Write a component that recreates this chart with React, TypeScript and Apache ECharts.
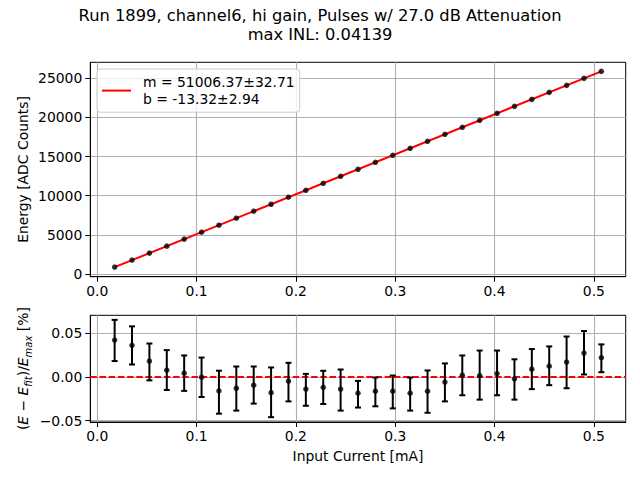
import React, { useEffect, useRef } from "react";
import * as echarts from "echarts";

const titleLines = [
  "Run 1899, channel6, hi gain, Pulses w/ 27.0 dB Attenuation",
  "max INL: 0.04139",
];
const legendLabel = "m = 51006.37±32.71\nb = -13.32±2.94";

const current = [
  0.0175, 0.035, 0.0525, 0.07, 0.0875, 0.105, 0.1225, 0.14, 0.1575, 0.175,
  0.1925, 0.21, 0.2275, 0.245, 0.2625, 0.28, 0.2975, 0.315, 0.3325, 0.35,
  0.3675, 0.385, 0.4025, 0.42, 0.4375, 0.455, 0.4725, 0.49, 0.5075,
];
const energy = [
  890, 1781, 2669, 3559, 4451, 5342, 6231, 7124, 8018, 8908, 9804, 10694,
  11588, 12480, 13371, 14264, 15157, 16049, 16942, 17837, 18732, 19624, 20518,
  21409, 22304, 23198, 24091, 24987, 25878,
];
const fitX = [0.0175, 0.5075];
const fitY = [879.3, 25872.3];

const residual = [
  0.042, 0.036, 0.018, 0.0076, 0.0042, -0.0004, -0.016, -0.013, -0.0095,
  -0.018, -0.005, -0.014, -0.012, -0.014, -0.0187, -0.0164, -0.0164, -0.0187,
  -0.0164, -0.006, 0.0019, 0.0015, 0.0038, -0.0023, 0.0088, 0.0122, 0.0168,
  0.0271, 0.0218,
];
const residualLow = [
  0.018, 0.0141, -0.004, -0.015, -0.016, -0.023, -0.042, -0.0385, -0.0305,
  -0.046, -0.028, -0.033, -0.031, -0.0385, -0.035, -0.0336, -0.036, -0.0385,
  -0.041, -0.028, -0.021, -0.026, -0.021, -0.026, -0.014, -0.0095, -0.013,
  0.0027, 0.0053,
];
const residualHigh = [
  0.065, 0.0576, 0.038, 0.0305, 0.0244, 0.022, 0.007, 0.0118, 0.0118, 0.0107,
  0.016, 0.0034, 0.0069, 0.0084, -0.0046, -0.0008, 0.0015, -0.0008, 0.0073,
  0.0153, 0.0244, 0.03, 0.03, 0.02, 0.0317, 0.0347, 0.046, 0.0523, 0.037,
];

const xTicks = [0, 0.1, 0.2, 0.3, 0.4, 0.5];
const energyTicks = [0, 5000, 10000, 15000, 20000, 25000];
const residualTicks = [-0.05, 0, 0.05];

const FONT = "DejaVu Sans";
const TICK_FS = 13.9;

function App() {
  const ref = useRef<HTMLDivElement>(null);
  useEffect(() => {
    if (!ref.current) return;
    const chart = echarts.init(ref.current, null, { renderer: "svg" });

    const labelStyle = { color: "#000", fontFamily: FONT, fontSize: TICK_FS };
    const splitLine = { show: true, lineStyle: { color: "#b0b0b0", width: 1.1 } };
    const axisLine = { show: true, onZero: false, lineStyle: { color: "#000", width: 1 } };
    const axisTick = (vals: number[]) => ({
      show: true,
      inside: false,
      length: 5,
      lineStyle: { color: "#000", width: 1 },
      customValues: vals,
    });

    const fmtX = (v: number) => v.toFixed(1);
    const fmtE = (v: number) => String(Math.round(v));
    const fmtR = (v: number) => (v < -1e-9 ? "\u2212" : "") + Math.abs(v).toFixed(2);

    const titleStyle = {
      fontFamily: FONT,
      fontSize: 16.3,
      fontWeight: "normal",
      color: "#000",
      lineHeight: 17,
    };

    const option: any = {
      animation: false,
      backgroundColor: "#fff",
      title: [
        {
          text: titleLines[0],
          left: 320,
          top: 7,
          padding: 0,
          textAlign: "center",
          textStyle: titleStyle,
        },
        {
          text: titleLines[1],
          left: 320,
          top: 26,
          padding: 0,
          textAlign: "center",
          textStyle: titleStyle,
        },
      ],
      legend: {
        data: [legendLabel],
        left: 97,
        top: 69,
        orient: "vertical",
        padding: [5, 5, 5, 5],
        itemWidth: 29,
        itemHeight: 2,
        icon: "rect",
        backgroundColor: "rgba(255,255,255,0.8)",
        borderColor: "#cccccc",
        borderWidth: 1,
        borderRadius: 3,
        textStyle: {
          fontFamily: FONT,
          fontSize: TICK_FS,
          color: "#000",
          lineHeight: 16.6,
          padding: [0, 0, 0, 7],
        },
      },
      grid: [
        {
          left: 90.3,
          top: 62.3,
          width: 535.4,
          height: 214.4,
          show: true,
          borderColor: "#000",
          borderWidth: 1,
          backgroundColor: "transparent",
        },
        {
          left: 90.3,
          top: 315.3,
          width: 535.4,
          height: 106.7,
          show: true,
          borderColor: "#000",
          borderWidth: 1,
          backgroundColor: "transparent",
        },
      ],
      xAxis: [
        {
          type: "value",
          gridIndex: 0,
          min: -0.007,
          max: 0.532,
          axisLine,
          axisTick: axisTick(xTicks),
          splitLine,
          axisLabel: { ...labelStyle, margin: 7, customValues: xTicks, formatter: fmtX },
        },
        {
          type: "value",
          gridIndex: 1,
          min: -0.007,
          max: 0.532,
          name: "Input Current [mA]",
          nameLocation: "middle",
          nameGap: 27,
          nameMoveOverlap: false,
          nameTextStyle: { ...labelStyle },
          axisLine,
          axisTick: axisTick(xTicks),
          splitLine,
          axisLabel: { ...labelStyle, margin: 7, customValues: xTicks, formatter: fmtX },
        },
      ],
      yAxis: [
        {
          type: "value",
          gridIndex: 0,
          min: -345,
          max: 27036,
          name: "Energy [ADC Counts]",
          nameLocation: "middle",
          nameRotate: 90,
          nameGap: 60,
          nameMoveOverlap: false,
          nameTextStyle: { ...labelStyle },
          axisLine,
          axisTick: axisTick(energyTicks),
          splitLine,
          axisLabel: { ...labelStyle, margin: 8, customValues: energyTicks, formatter: fmtE },
        },
        {
          type: "value",
          gridIndex: 1,
          min: -0.0515,
          max: 0.0702,
          name:
            "{n|(}{i|E}{n| \u2212 }{i|E}{s|fit}{n|)/}{i|E}{s|max}{n| [%]}",
          nameLocation: "middle",
          nameRotate: 90,
          nameGap: 57,
          nameMoveOverlap: false,
          nameTextStyle: {
            ...labelStyle,
            rich: {
              n: { fontFamily: FONT, fontSize: TICK_FS, color: "#000", lineHeight: 20, verticalAlign: "middle" },
              i: { fontFamily: FONT, fontSize: TICK_FS, fontStyle: "italic", color: "#000", lineHeight: 20, verticalAlign: "middle" },
              s: { fontFamily: FONT, fontSize: 10, fontStyle: "italic", color: "#000", lineHeight: 20, verticalAlign: "bottom" },
            },
          },
          axisLine,
          axisTick: axisTick(residualTicks),
          splitLine,
          axisLabel: { ...labelStyle, margin: 8, customValues: residualTicks, formatter: fmtR },
        },
      ],
      series: [
        {
          name: legendLabel,
          type: "line",
          xAxisIndex: 0,
          yAxisIndex: 0,
          data: fitX.map((x, i) => [x, fitY[i]]),
          showSymbol: false,
          symbol: "none",
          lineStyle: { color: "#ff0000", width: 2 },
          itemStyle: { color: "#ff0000" },
          z: 3,
        },
        {
          name: "data",
          type: "scatter",
          xAxisIndex: 0,
          yAxisIndex: 0,
          data: current.map((x, i) => [x, energy[i]]),
          symbol: "circle",
          symbolSize: 5.5,
          itemStyle: { color: "#000" },
          z: 4,
        },
        {
          name: "errors",
          type: "custom",
          xAxisIndex: 1,
          yAxisIndex: 1,
          data: current.map((x, i) => [x, residual[i], residualLow[i], residualHigh[i]]),
          encode: { x: 0, y: [2, 3] },
          renderItem: (params: any, api: any) => {
            const x = api.value(0);
            const lo = api.coord([x, api.value(2)]);
            const hi = api.coord([x, api.value(3)]);
            const cap = 3;
            const style = { stroke: "#000", lineWidth: 2 };
            return {
              type: "group",
              children: [
                { type: "line", shape: { x1: lo[0], y1: lo[1], x2: hi[0], y2: hi[1] }, style },
                { type: "line", shape: { x1: lo[0] - cap, y1: lo[1], x2: lo[0] + cap, y2: lo[1] }, style },
                { type: "line", shape: { x1: hi[0] - cap, y1: hi[1], x2: hi[0] + cap, y2: hi[1] }, style },
              ],
            };
          },
          z: 4,
        },
        {
          name: "residual",
          type: "scatter",
          xAxisIndex: 1,
          yAxisIndex: 1,
          data: current.map((x, i) => [x, residual[i]]),
          symbol: "circle",
          symbolSize: 5.5,
          itemStyle: { color: "#000" },
          z: 5,
          markLine: {
            silent: true,
            symbol: ["none", "none"],
            label: { show: false },
            lineStyle: { color: "#ff0000", type: [6.5, 2.7], width: 2 },
            data: [{ yAxis: 0 }],
            z: 3,
          },
        },
      ],
    };
    chart.setOption(option);
    return () => chart.dispose();
  }, []);
  return (
    <div
      ref={ref}
      style={{ position: "fixed", left: 0, top: 0, width: 640, height: 480 }}
    />
  );
}

export default App;
